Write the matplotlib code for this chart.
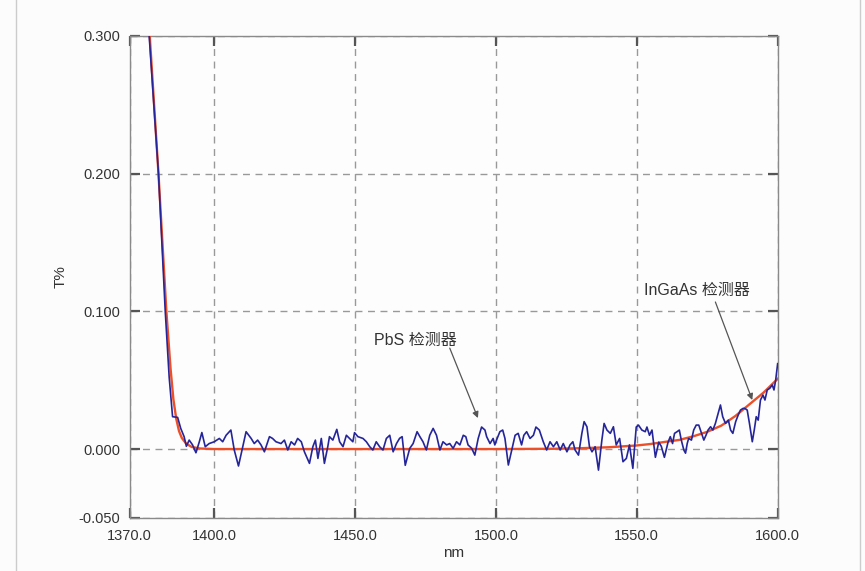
import matplotlib
matplotlib.use('Agg')
import matplotlib.pyplot as plt
from matplotlib.lines import Line2D

# ─── Data ────────────────────────────────────────────────────────────────────

# measured transmittance (blue trace)
meas_nm = [
    1376.0, 1376.9, 1380.2, 1382.6, 1384.0, 1385.2, 1387.0, 1388.1, 1389.3, 1390.1,
    1391.1, 1392.3, 1393.5, 1394.7, 1395.6, 1396.8, 1398.2, 1400.0, 1401.8, 1403.0,
    1404.2, 1405.9, 1407.1, 1408.6, 1410.1, 1411.3, 1413.1, 1414.2, 1415.4, 1416.6,
    1417.8, 1419.6, 1420.7, 1421.9, 1423.7, 1424.9, 1426.1, 1427.3, 1428.5, 1429.6,
    1430.9, 1432.0, 1433.8, 1435.0, 1435.9, 1436.8, 1438.0, 1439.1, 1440.3, 1440.9,
    1442.1, 1443.5, 1444.5, 1445.7, 1446.9, 1448.0, 1449.2, 1449.8, 1451.0, 1452.8,
    1454.0, 1455.2, 1456.3, 1457.5, 1458.7, 1459.9, 1461.1, 1462.3, 1463.5, 1464.7,
    1465.8, 1466.7, 1467.8, 1469.4, 1470.6, 1472.0, 1473.0, 1474.1, 1475.3, 1476.5,
    1477.7, 1478.9, 1480.1, 1481.2, 1482.5, 1483.6, 1484.8, 1486.0, 1487.2, 1488.4,
    1489.3, 1490.1, 1491.4, 1492.5, 1493.7, 1494.9, 1496.1, 1496.7, 1497.9, 1499.0,
    1499.6, 1500.2, 1501.4, 1502.4, 1503.2, 1504.4, 1505.6, 1506.8, 1507.9, 1509.1,
    1509.9, 1510.9, 1512.1, 1513.3, 1514.2, 1515.4, 1516.8, 1518.0, 1519.2, 1520.4,
    1521.6, 1522.8, 1523.9, 1525.2, 1526.3, 1527.3, 1528.1, 1529.3, 1530.5, 1531.3,
    1532.3, 1533.2, 1534.1, 1535.2, 1536.4, 1537.6, 1538.4, 1539.4, 1540.6, 1541.7,
    1542.7, 1543.9, 1545.1, 1546.3, 1547.4, 1548.6, 1549.8, 1550.6, 1551.8, 1553.0,
    1553.6, 1554.5, 1555.4, 1556.6, 1557.8, 1558.7, 1559.8, 1561.1, 1561.9, 1562.7,
    1563.4, 1564.3, 1565.1, 1565.8, 1566.7, 1567.3, 1567.9, 1568.4, 1569.4, 1570.2,
    1571.1, 1572.0, 1573.0, 1573.8, 1574.6, 1575.3, 1576.2, 1577.0, 1577.9, 1578.9,
    1579.7, 1580.5, 1581.5, 1582.5, 1583.3, 1584.1, 1585.1, 1586.0, 1586.8, 1587.7,
    1588.4, 1589.2, 1590.0, 1591.0, 1591.7, 1592.4, 1593.1, 1593.9, 1594.8, 1595.5,
    1596.3, 1597.2, 1598.1, 1598.7, 1599.3, 1599.7, 1600.0,
]
meas_t = [
    0.330, 0.300, 0.200, 0.100, 0.052, 0.0235, 0.023, 0.015, 0.009, 0.002,
    0.0065, 0.003, -0.0027, 0.0053, 0.012, 0.0017, 0.004, 0.0053, 0.0077, 0.0053,
    0.010, 0.0138, -0.0007, -0.0123, 0.0017, 0.0126, 0.0077, 0.004, 0.0065, 0.003,
    -0.002, 0.009, 0.0077, 0.0053, 0.004, 0.0065, -0.0007, 0.0053, 0.003, 0.0077,
    0.0053, -0.002, -0.0104, 0.0017, 0.0065, -0.0068, 0.0077, -0.0104, 0.0017, 0.009,
    0.0065, 0.0143, 0.0053, 0.0017, 0.010, 0.0077, 0.0053, 0.0119, 0.009, 0.0077,
    0.0053, 0.0017, -0.0007, 0.0053, 0.0017, -0.0007, 0.0077, 0.010, -0.002, 0.004,
    0.0078, 0.009, -0.0118, 0.0005, 0.004, 0.0126, 0.009, 0.0053, -0.0007, 0.010,
    0.015, 0.010, -0.0007, 0.0053, 0.003, 0.004, 0.0005, 0.0053, 0.003, 0.010,
    0.009, 0.003, 0.0005, -0.0044, 0.0077, 0.016, 0.0138, 0.009, 0.004, 0.0077,
    0.003, 0.0065, 0.0126, 0.0138, 0.0077, -0.0116, -0.0007, 0.010, 0.0114, 0.003,
    0.010, 0.0126, 0.0077, 0.010, 0.016, 0.0138, 0.0053, -0.0007, 0.0053, 0.0017,
    0.0053, -0.0007, 0.004, -0.002, 0.003, 0.0053, -0.0007, -0.0044, 0.0114, 0.0199,
    0.0162, 0.0017, -0.002, 0.0017, -0.0153, 0.0065, 0.0186, 0.0138, 0.0114, 0.0162,
    0.003, 0.0077, -0.0092, -0.0068, 0.003, -0.014, 0.016, 0.0174, 0.0138, 0.0126,
    0.016, 0.010, 0.0138, -0.006, 0.005, 0.002, -0.006, 0.005, 0.009, 0.004,
    0.0114, 0.0126, 0.0138, 0.0065, -0.0007, -0.003, 0.004, 0.0077, 0.0065, 0.0138,
    0.0174, 0.0174, 0.0114, 0.0065, 0.0102, 0.0138, 0.0162, 0.0138, 0.0186, 0.0259,
    0.032, 0.0235, 0.0186, 0.021, 0.0138, 0.0114, 0.0199, 0.0247, 0.0283, 0.0295,
    0.0295, 0.0283, 0.0186, 0.0053, 0.0138, 0.0235, 0.021, 0.0356, 0.0392, 0.0356,
    0.0429, 0.0441, 0.0465, 0.0429, 0.050, 0.057, 0.062,
]

# fitted curve (red)
fit_nm = [1376.5, 1377.1, 1380.2, 1383.0, 1384.5, 1385.5, 1386.5, 1387.5, 1388.5,
          1390.0, 1392.0, 1395.0, 1400.0, 1450.0, 1500.0, 1520.0, 1530.0, 1540.0,
          1550.0, 1555.0, 1560.0, 1565.0, 1570.0, 1575.0, 1580.0, 1585.0, 1590.0,
          1595.0, 1600.0]
fit_t = [0.320, 0.300, 0.200, 0.100, 0.058, 0.036, 0.022, 0.013, 0.008,
         0.004, 0.0015, 0.0004, 0.0, 0.0, 0.0, 0.0002, 0.0006, 0.0013,
         0.0026, 0.0037, 0.0052, 0.0066, 0.0092, 0.0125, 0.017, 0.024, 0.0325,
         0.041, 0.051]

x_ticks = [1370.0, 1400.0, 1450.0, 1500.0, 1550.0, 1600.0]
y_ticks = [-0.050, 0.000, 0.100, 0.200, 0.300]

# detector annotations: label, text position, arrow tail, arrow tip
notes = [
    ('PbS 检测器',    (1471.5, 0.079), (1483.6, 0.0733), (1493.6, 0.0225)),
    ('InGaAs 检测器', (1571.5, 0.1155), (1577.9, 0.1068), (1591.0, 0.0356)),
]

# ─── Plot ────────────────────────────────────────────────────────────────────

plt.rcParams['font.family'] = ['Liberation Sans', 'Noto Sans CJK SC', 'DejaVu Sans']

fig = plt.figure(figsize=(8.65, 5.71), dpi=100, facecolor='#fcfcfc')
ax = fig.add_axes([0.150, 0.093, 0.749, 0.844], facecolor='#fdfdfd')

ax.plot(fit_nm, fit_t, color='#ec5028', lw=1.7, zorder=3)
ax.plot(meas_nm, meas_t, color='#25259a', lw=1.2, zorder=4)

ax.set_xlim(1370, 1600)
ax.set_ylim(-0.05, 0.30)
ax.set_xticks(x_ticks)
ax.set_xticklabels([f'{v:.1f}' for v in x_ticks])
ax.set_yticks(y_ticks)
ax.set_yticklabels([f'{v:.3f}' for v in y_ticks])

ax.grid(True, color='#999999', linestyle=(0, (5, 4)), linewidth=1.0)
ax.tick_params(direction='in', length=7, width=1.6, color='#555555',
               top=True, right=True, labelsize=10.5, labelcolor='#333333')
ax.tick_params(axis='x', pad=8)
ax.tick_params(axis='y', pad=7)
for sp in ax.spines.values():
    sp.set_color('#8a8a8a')
    sp.set_linewidth(1.0)

ax.set_xlabel('nm', fontsize=11, color='#333333', labelpad=2)
ax.set_ylabel('T%', fontsize=11, color='#333333', labelpad=8)

for label, txt_xy, tail_xy, tip_xy in notes:
    ax.text(*txt_xy, label, fontsize=11.5, color='#333333', ha='center', va='center')
    ax.annotate('', xy=tip_xy, xytext=tail_xy,
                arrowprops=dict(arrowstyle='-|>', color='#555555', lw=0.9,
                                mutation_scale=9, shrinkA=0, shrinkB=0), zorder=6)

# thin outer frame lines
for xf in (16 / 865, 860 / 865):
    fig.add_artist(Line2D([xf, xf], [0, 1], transform=fig.transFigure,
                          color='#cccccc', lw=1.0))

plt.savefig('out.png', dpi=100, facecolor=fig.get_facecolor())
